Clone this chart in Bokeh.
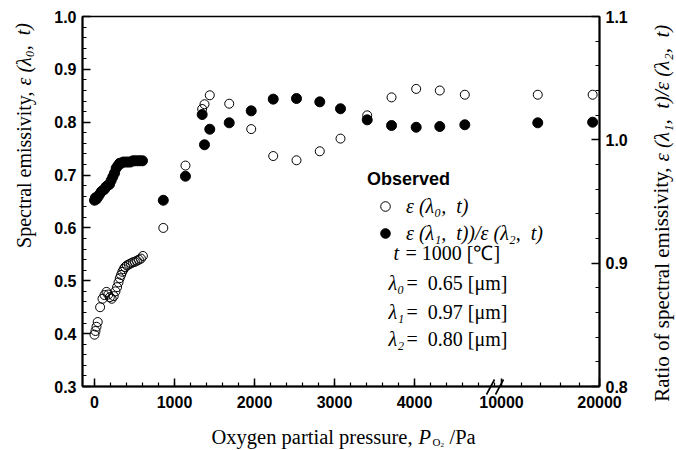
import numpy as np
from bokeh.plotting import figure
from bokeh.models import (ColumnDataSource, Range1d, LinearAxis, FixedTicker,
                          SingleIntervalTicker, PrintfTickFormatter, NumeralTickFormatter,
                          Label, Legend, LegendItem)
from bokeh.core.properties import value
from bokeh.embed import file_html
from bokeh.resources import INLINE

# ---------------------------------------------------------------- data
# Continuous low-pressure sweep: spectral emissivity eps(lambda0, t)
p_sweep_eps = [0, 12, 25, 40, 70, 100, 125, 150, 172, 192, 215, 240, 262, 282, 300,
               316, 332, 348, 364, 382, 405, 430, 455, 480, 505, 530, 555, 580, 605]
eps_sweep = [0.398, 0.405, 0.413, 0.422, 0.450, 0.466, 0.473, 0.479, 0.474, 0.469,
             0.466, 0.471, 0.480, 0.488, 0.497, 0.505, 0.511, 0.517, 0.522, 0.526,
             0.529, 0.531, 0.533, 0.535, 0.536, 0.538, 0.540, 0.542, 0.547]

# Continuous low-pressure sweep: ratio eps(lambda1, t)/eps(lambda2, t)
p_sweep_ratio = [0, 12, 25, 45, 65, 85, 105, 125, 145, 165, 188, 208, 229, 250, 271,
                 292, 314, 334, 360, 390, 420, 450, 480, 510, 540, 570, 600]
ratio_sweep = [0.951, 0.953, 0.952, 0.954, 0.956, 0.958, 0.959, 0.960, 0.962, 0.963,
               0.964, 0.967, 0.970, 0.973, 0.977, 0.979, 0.981, 0.981, 0.982, 0.982,
               0.982, 0.982, 0.983, 0.983, 0.983, 0.983, 0.983]

# Discrete pressure settings (both quantities measured at each)
p_steps = [860, 1137, 1346, 1375, 1441, 1684, 1959, 2234, 2525, 2816, 3075, 3409,
           3713, 4021, 4316, 4629, 13700, 19300]
eps_steps = [0.600, 0.718, 0.825, 0.834, 0.851, 0.835, 0.787, 0.736, 0.728, 0.745,
             0.769, 0.813, 0.847, 0.863, 0.860, 0.852, 0.852, 0.852]
ratio_steps = [0.951, 0.9705, 1.0205, 0.996, 1.0086, 1.0138, 1.0235, 1.033, 1.0335,
               1.0308, 1.0252, 1.0162, 1.0116, 1.0102, 1.0108, 1.0122, 1.0138, 1.0143]

x_tick_values = [0, 1000, 2000, 3000, 4000, 10000, 20000]
x_tick_labels = ["0", "1000", "2000", "3000", "4000", "10000", "20000"]
x_minor_low = list(range(0, 5001, 200))
x_minor_high = [12000, 14000, 16000, 18000]

# ------------------------------------------------- broken pressure axis
LOW_END = 5000.0          # linear part ends here
HIGH_START = 10000.0      # compressed part starts here
HIGH_END = 20000.0
HIGH_OFFSET = 5087.5      # axis position of HIGH_START
HIGH_SCALE = 0.1225       # axis units per Pa above HIGH_START


def axis_pos(p):
    p = np.asarray(p, dtype=float)
    return np.where(p <= LOW_END, p, HIGH_OFFSET + (p - HIGH_START) * HIGH_SCALE)


open_src = ColumnDataSource(dict(
    x=axis_pos(p_sweep_eps + p_steps), y=eps_sweep + eps_steps))
filled_src = ColumnDataSource(dict(
    x=axis_pos(p_sweep_ratio + p_steps), y=ratio_sweep + ratio_steps))

# ------------------------------------------------------------- figure
W, H = 676, 450
FRAME_LEFT, FRAME_RIGHT, FRAME_TOP, FRAME_BOTTOM = 82, 599, 16, 386
X_LO, X_HI = -150.0, float(axis_pos(HIGH_END))
Y_LO, Y_HI = 0.3, 1.0

p = figure(width=W, height=H, output_backend="svg", toolbar_location=None,
           x_range=Range1d(X_LO, X_HI), y_range=Range1d(Y_LO, Y_HI),
           min_border_left=FRAME_LEFT, min_border_right=W - FRAME_RIGHT,
           min_border_top=FRAME_TOP, min_border_bottom=H - FRAME_BOTTOM,
           x_axis_type=None, y_axis_type=None)
p.extra_y_ranges = {"ratio": Range1d(0.8, 1.1)}
p.grid.visible = False
p.outline_line_color = "black"
p.outline_line_width = 1.5
p.background_fill_color = "white"
p.border_fill_color = "white"

TICK_FONT = "Liberation Sans"
SERIF = "Liberation Serif"


def style_axis(ax):
    ax.axis_line_width = 2
    ax.axis_line_color = "black"
    ax.major_tick_in = 8
    ax.major_tick_out = 0
    ax.minor_tick_in = 4
    ax.minor_tick_out = 0
    ax.major_tick_line_width = 1.5
    ax.minor_tick_line_width = 1.2
    ax.major_label_text_font = TICK_FONT
    ax.major_label_text_font_size = "16px"
    ax.major_label_text_font_style = "bold"
    ax.major_label_text_color = "black"


xticks = [float(v) for v in axis_pos(x_tick_values)]
xaxis = LinearAxis(
    ticker=FixedTicker(ticks=xticks,
                       minor_ticks=[float(v) for v in axis_pos(x_minor_low + x_minor_high)]),
    formatter=NumeralTickFormatter(format="0"),
    major_label_overrides={t: lab for t, lab in zip(xticks, x_tick_labels)})
style_axis(xaxis)
xaxis.major_label_standoff = 9
p.add_layout(xaxis, "below")

yaxis = LinearAxis(ticker=SingleIntervalTicker(interval=0.1, num_minor_ticks=5),
                   formatter=PrintfTickFormatter(format="%.1f"))
style_axis(yaxis)
yaxis.major_label_standoff = 6
p.add_layout(yaxis, "left")

raxis = LinearAxis(y_range_name="ratio",
                   ticker=SingleIntervalTicker(interval=0.1, num_minor_ticks=5),
                   formatter=PrintfTickFormatter(format="%.1f"))
style_axis(raxis)
raxis.major_label_standoff = 6
p.add_layout(raxis, "right")

# ------------------------------------------------------------- marks
open_r = p.scatter(x="x", y="y", source=open_src, marker="circle", size=9,
                   fill_color=None, line_color="black", line_width=1)
filled_r = p.scatter(x="x", y="y", source=filled_src, y_range_name="ratio",
                     marker="circle", size=10, fill_color="black", line_color="black")

# ------------------------------------------------------------- legend
EN = "\u2002"
legend = Legend(items=[LegendItem(label=f"ε (λ₀,{EN}t)", renderers=[open_r]),
                       LegendItem(label=f"ε (λ₁,{EN}t))/ε (λ₂,{EN}t)", renderers=[filled_r])],
                title="Observed", location=(285, 141), orientation="vertical",
                padding=0, margin=0, spacing=3, glyph_width=36, glyph_height=24,
                label_height=24, label_standoff=3, title_standoff=4,
                background_fill_alpha=0, border_line_alpha=0)
legend.title_text_font = TICK_FONT
legend.title_text_font_style = "bold"
legend.title_text_font_size = "18px"
legend.title_text_color = "black"
legend.label_text_font = SERIF
legend.label_text_font_style = "italic"
legend.label_text_font_size = "20px"
legend.label_text_color = "black"
p.add_layout(legend)


def frame_label(text, cx, cy, size="20px", font=SERIF, style="normal",
                align="left", baseline="middle"):
    """Text inside the plotting frame, given in canvas pixels from the top-left."""
    p.add_layout(Label(x=cx - FRAME_LEFT, y=FRAME_BOTTOM - cy, x_units="screen",
                       y_units="screen", text=text, text_font=font,
                       text_font_size=size, text_font_style=style,
                       text_align=align, text_baseline=baseline, text_color="black"))


# measurement conditions
frame_label("t", 393, 252, style="italic")
frame_label("= 1000 [℃]", 405, 252)
frame_label("λ₀", 388, 282, style="italic")
frame_label(f"={EN}0.65 [μm]", 406, 282)
frame_label("λ₁", 388, 311, style="italic")
frame_label(f"={EN}0.97 [μm]", 406, 311)
frame_label("λ₂", 388, 338, style="italic")
frame_label(f"={EN}0.80 [μm]", 406, 338)

# ------------------------------------------------------ outer texts
# Text and marks outside the frame are drawn at overlay level, anchored inside
# the frame and shifted by pixel offsets to their canvas position.
ANCHOR_X, ANCHOR_Y = (X_LO + X_HI) / 2, (Y_LO + Y_HI) / 2
ANCHOR_CX = (FRAME_LEFT + FRAME_RIGHT) / 2
ANCHOR_CY = (FRAME_TOP + FRAME_BOTTOM) / 2

outer = dict(x=[], y=[], text=[], dx=[], dy=[], angle=[], style=[], size=[],
             align=[], baseline=[])


def outer_text(text, cx, cy, size="20px", style="normal", align="left",
               baseline="middle", angle=0.0):
    outer["x"].append(ANCHOR_X)
    outer["y"].append(ANCHOR_Y)
    outer["text"].append(text)
    outer["dx"].append(cx - ANCHOR_CX)
    outer["dy"].append(cy - ANCHOR_CY)
    outer["angle"].append(angle)
    outer["style"].append(style)
    outer["size"].append(size)
    outer["align"].append(align)
    outer["baseline"].append(baseline)


VERT = np.pi / 2
outer_text("Spectral emissivity,", 23, 91, align="right", angle=VERT)
outer_text(f"ε (λ₀,{EN}t)", 23, 85, style="italic", align="left", angle=VERT)
outer_text("Ratio of spectral emissivity,", 661, 167, "21px", align="right", angle=VERT)
outer_text(f"ε (λ₁,{EN}t)/ε (λ₂,{EN}t)", 661, 161, "21px", style="italic",
           align="left", angle=VERT)
outer_text("Oxygen partial pressure,", 412, 436, "20.5px", align="right",
           baseline="alphabetic")
outer_text("P", 418, 436, "20.5px", style="italic", baseline="alphabetic")
outer_text("O", 432, 441, "11px", baseline="alphabetic")
outer_text("2", 440, 444, "7px", baseline="alphabetic")
outer_text("/Pa", 449, 436, "20.5px", baseline="alphabetic")

p.text(x="x", y="y", text="text", x_offset="dx", y_offset="dy", angle="angle",
       text_font=value(SERIF), text_font_style="style", text_font_size="size",
       text_align="align", text_baseline="baseline", text_color="black",
       source=ColumnDataSource(outer), level="overlay")


# axis break marks: two short slanted strokes across the pressure axis
def canvas_to_data(cx, cy):
    x = X_LO + (cx - FRAME_LEFT) * (X_HI - X_LO) / (FRAME_RIGHT - FRAME_LEFT)
    y = Y_LO + (FRAME_BOTTOM - cy) * (Y_HI - Y_LO) / (FRAME_BOTTOM - FRAME_TOP)
    return x, y


bx = FRAME_LEFT + (LOW_END - X_LO) * (FRAME_RIGHT - FRAME_LEFT) / (X_HI - X_LO)
brk = dict(x0=[], y0=[], x1=[], y1=[])
for shift in (-4, 5):
    x0, y0 = canvas_to_data(bx + shift - 4, FRAME_BOTTOM + 8)
    x1, y1 = canvas_to_data(bx + shift + 4, FRAME_BOTTOM - 7)
    brk["x0"].append(x0)
    brk["y0"].append(y0)
    brk["x1"].append(x1)
    brk["y1"].append(y1)
p.segment(x0="x0", y0="y0", x1="x1", y1="y1", source=ColumnDataSource(brk),
          line_color="black", line_width=1.6, level="overlay")

open("out.html", "w").write(file_html(p, INLINE))
